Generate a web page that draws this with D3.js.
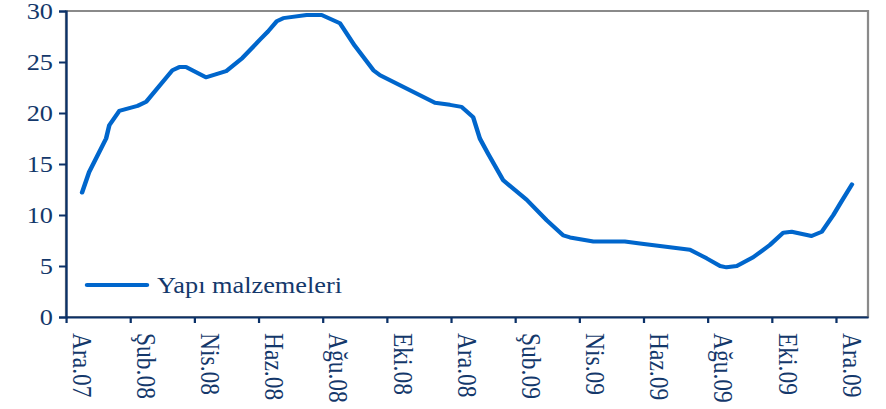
<!DOCTYPE html>
<html>
<head>
<meta charset="utf-8">
<script src="https://cdn.jsdelivr.net/npm/d3@7"></script>
<style>
  body { margin: 0; background: #fff; }
  svg text { font-family: "Liberation Serif", "Times New Roman", serif; fill: #14386b; }
</style>
</head>
<body>
<script>
// month labels, one every 2 months (Ara.07 = month 0)
var monthLabels = ["Ara.07", "Şub.08", "Nis.08", "Haz.08", "Ağu.08", "Eki.08", "Ara.08",
                   "Şub.09", "Nis.09", "Haz.09", "Ağu.09", "Eki.09", "Ara.09"]
var labelMonths = [0, 2, 4, 6, 8, 10, 12, 14, 16, 18, 20, 22, 24]
var yTicks = [0, 5, 10, 15, 20, 25, 30]
var seriesName = "Yapı malzemeleri"

// position in months since Ara.07, and value
var monthPos = [0, 0.22, 0.75, 0.85, 1.16, 1.73, 2.0, 2.82, 3.03, 3.24, 3.86, 4.49, 5.0,
                5.55, 5.8, 6.07, 6.27, 7.0, 7.47, 8.04, 8.5, 9.08, 9.29, 11.0, 11.47,
                11.83, 12.19, 12.4, 12.66, 13.13, 13.86, 14.48, 15.0, 15.21, 15.94, 16.92,
                17.39, 18.95, 19.47, 19.89, 20.09, 20.41, 20.92, 21.44, 21.86, 22.12,
                22.74, 23.06, 23.42, 23.63, 24.0]
var values = [12.2, 14.2, 17.5, 18.8, 20.2, 20.7, 21.1, 24.2, 24.5, 24.5, 23.5, 24.1, 25.4,
              27.2, 28.0, 29.0, 29.3, 29.6, 29.6, 28.8, 26.6, 24.2, 23.7, 21.0, 20.8,
              20.6, 19.6, 17.5, 16.0, 13.4, 11.5, 9.5, 8.0, 7.8, 7.4, 7.4,
              7.2, 6.6, 5.75, 5.0, 4.87, 5.0, 5.85, 7.06, 8.27, 8.36,
              7.94, 8.36, 10.0, 11.1, 13.0]

var data = monthPos.map(function(m, i) { return { m: m, v: values[i] } })

// the picture is a bit wider than tall, stretch everything horizontally
var SX = 1.12
var W = 886, H = 409
var plotLeft = 66, plotRight = 868, plotTop = 11, plotBottom = 317
var navy = "#0b3168"
var fontSize = 23.5

var svg = d3.select("body").append("svg")
  .attr("width", W)
  .attr("height", H)
  .attr("viewBox", "0 0 " + (W / SX) + " " + H)
  .attr("preserveAspectRatio", "none")

var x = d3.scaleLinear()
  .domain([-0.5, 24.5])
  .range([plotLeft / SX, plotRight / SX])

var y = d3.scaleLinear()
  .domain([0, 30])
  .range([plotBottom, plotTop])

// grey frame (top and right)
svg.append("rect")
  .attr("x", x(-0.5)).attr("y", y(30))
  .attr("width", x(24.5) - x(-0.5)).attr("height", y(0) - y(30))
  .attr("fill", "none")
  .attr("stroke", "#8a8a8a")
  .attr("stroke-width", 2)

// y axis
var yAxis = svg.append("g")
  .attr("transform", "translate(" + x(-0.5) + ",0)")
  .call(d3.axisLeft(y).tickValues(yTicks).tickSize(7 / SX).tickPadding(6 / SX))
yAxis.select(".domain").attr("stroke", navy).attr("stroke-width", 2)
yAxis.selectAll(".tick line").attr("stroke", navy).attr("stroke-width", 2)
yAxis.selectAll(".tick text")
  .attr("font-size", fontSize)
  .attr("fill", "#14386b")
  .attr("font-family", null)

// x axis: ticks between categories, every 2 months
var boundaries = d3.range(-0.5, 24, 2)
var xAxis = svg.append("g")
  .attr("transform", "translate(0," + y(0) + ")")
  .call(d3.axisBottom(x).tickValues(boundaries).tickSize(6).tickSizeOuter(0).tickFormat(""))
xAxis.select(".domain").attr("stroke", navy).attr("stroke-width", 2)
xAxis.selectAll(".tick line").attr("stroke", navy).attr("stroke-width", 2)

// rotated month labels
svg.append("g").selectAll("text")
  .data(labelMonths)
  .enter().append("text")
  .attr("transform", function(d) { return "translate(" + x(d) + "," + (y(0) + 16) + ") rotate(90)" })
  .attr("dy", "0.35em")
  .attr("font-size", fontSize)
  .attr("text-anchor", "start")
  .text(function(d, i) { return monthLabels[i] })

// series line
var line = d3.line()
  .x(function(d) { return x(d.m) })
  .y(function(d) { return y(d.v) })

svg.append("path")
  .datum(data)
  .attr("fill", "none")
  .attr("stroke", "#0066cc")
  .attr("stroke-width", 4)
  .attr("stroke-linejoin", "round")
  .attr("stroke-linecap", "round")
  .attr("d", line)

// legend
var legend = svg.append("g")
legend.append("line")
  .attr("x1", 87 / SX).attr("x2", 147 / SX)
  .attr("y1", 285).attr("y2", 285)
  .attr("stroke", "#0066cc")
  .attr("stroke-width", 4)
  .attr("stroke-linecap", "round")
legend.append("text")
  .attr("x", 157 / SX)
  .attr("y", 293)
  .attr("font-size", fontSize)
  .text(seriesName)
</script>
</body>
</html>
